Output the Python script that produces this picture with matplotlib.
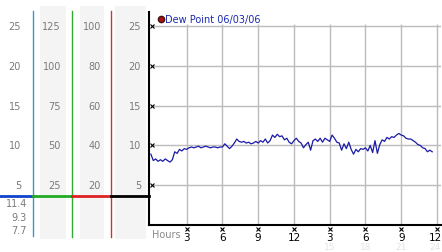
import numpy as np
import matplotlib
matplotlib.use('Agg')
import matplotlib.pyplot as plt
import matplotlib.transforms as mtransforms

# dew point readings, one every 0.2 h
dew = [8.9, 8.1, 8.3, 8.0, 8.2, 8.0, 8.3, 8.1, 7.9, 8.2,
       9.2, 9.0, 9.5, 9.3, 9.6, 9.5, 9.7, 9.8, 9.7, 9.8,
       9.9, 9.7, 9.8, 9.9, 9.8, 9.7, 9.8, 9.8, 9.7, 9.8,
       9.8, 10.2, 9.9, 9.6, 9.9, 10.3, 10.8, 10.5, 10.4, 10.5,
       10.3, 10.4, 10.2, 10.3, 10.5, 10.3, 10.6, 10.4, 10.8, 10.3,
       10.6, 11.3, 11.0, 11.4, 11.1, 11.2, 10.7, 10.9, 10.4, 10.2,
       10.6, 10.9, 10.5, 10.3, 9.7, 10.1, 10.4, 9.4, 10.6, 10.8,
       10.5, 10.9, 10.4, 10.9, 10.7, 10.5, 11.3, 10.9, 10.4, 10.3,
       9.4, 10.2, 9.6, 10.4, 9.5, 8.9, 9.5, 9.2, 9.6, 9.5,
       9.7, 9.3, 10.0, 9.1, 10.6, 9.0, 10.1, 10.7, 10.5, 11.0,
       10.8, 11.1, 11.0, 11.3, 11.5, 11.3, 11.2, 10.9, 10.8, 10.8,
       10.6, 10.4, 10.1, 10.0, 9.7, 9.6, 9.2, 9.4, 9.2]
hours = np.round(np.arange(len(dew)) * 0.2, 1)

xticks = [3, 6, 9, 12, 15, 18, 21, 24]
xlabels = ['3', '6', '9', '12', '3', '6', '9', '12']
xlabels2 = ['15', '18', '21', '24']
yticks = [25, 20, 15, 10, 5]

scale1 = ['25', '20', '15', '10', '5']
scale2 = ['125', '100', '75', '50', '25']
scale3 = ['100', '80', '60', '40', '20']
scale4 = ['25', '20', '15', '10', '5']
low = ['11.4', '9.3', '7.7']

W, H = 442, 253
fig = plt.figure(figsize=(W / 100, H / 100), dpi=100)

# overlay in pixel coords for the side panels
ov = fig.add_axes([0, 0, 1, 1], zorder=0)
ov.set_xlim(0, W)
ov.set_ylim(H, 0)
ov.axis('off')

# main chart, pixel box 149..441 x 13..226
x0, x1, ytop, ybot = 149, 441, 13, 226
ax = fig.add_axes([x0 / W, (H - ybot) / H, (x1 - x0) / W, (ybot - ytop) / H], zorder=1)
ax.patch.set_alpha(0)
pxh = 11.92
ax.set_xlim((x0 - 150.9) / pxh, (x1 - 150.9) / pxh)
ax.set_ylim(0, 25 + (27 - ytop) / 7.95)
for s in ['top', 'right']:
    ax.spines[s].set_visible(False)
ax.spines['left'].set_linewidth(1.5)
ax.spines['bottom'].set_linewidth(1.5)
ax.set_xticks([])
ax.set_yticks([])

ax.hlines(yticks, 0, 24.3, color='#bcbcbc', lw=1, zorder=1)
ax.vlines(xticks, 0, 25.2, color='#bcbcbc', lw=1, zorder=1)
ax.plot(hours, dew, color='#1a1aa8', lw=0.9, zorder=3)

# tick marks
ax.plot([0.12] * len(yticks), yticks, 'x', color='black', ms=2.5, mew=0.8, clip_on=False, zorder=4)
for xt, lab in zip(xticks, xlabels):
    ax.plot(xt, -0.45, 'x', color='black', ms=2.5, mew=0.8, clip_on=False)
    ax.text(min(xt, 23.85), -0.85, lab, ha='center', va='top', fontsize=7.5, color='black')
for xt, lab in zip(xticks[4:], xlabels2):
    ax.text(min(xt, 23.85), -3.0, lab, ha='center', va='baseline', fontsize=6.5, color='#e2e2e2')
ax.text(0.1, -0.55, 'Hours', ha='left', va='top', fontsize=7, color='#8a8a8a')

# legend
ax.plot(0.85, 25.85, 'o', color='#aa1111', mec='#441111', ms=4.5, clip_on=False)
ax.text(1.15, 25.85, 'Dew Point 06/03/06', ha='left', va='center', fontsize=7, color='#1a2ab0')

# side panels
for a, b in [(40, 66), (80, 104), (115, 146)]:
    ov.add_patch(plt.Rectangle((a, 7), b - a, 233, color='#f4f4f4', lw=0))
ov.plot([33, 33], [12, 237], color='#3399cc', lw=1)
ov.plot([72, 72], [12, 238], color='#33aa33', lw=1)
ov.plot([111, 111], [12, 238], color='#cc3333', lw=1)
ov.plot([0, 33], [197, 197], color='#1144cc', lw=2)
ov.plot([33, 72], [197, 197], color='#22aa22', lw=2)
ov.plot([72, 111], [197, 197], color='#dd2222', lw=2)
ov.plot([111, 149], [197, 197], color='black', lw=2)

tr = mtransforms.blended_transform_factory(ov.transData, ax.transData)
for xr, labs in [(21, scale1), (61, scale2), (101, scale3), (141, scale4)]:
    for v, lab in zip(yticks, labs):
        ov.text(xr, v, lab, transform=tr, ha='right', va='center', fontsize=7, color='#7a7a7a')
for yy, lab in zip([204, 218, 231], low):
    ov.text(27, yy, lab, ha='right', va='center', fontsize=7, color='#7a7a7a')

fig.savefig('out.png', dpi=100)
